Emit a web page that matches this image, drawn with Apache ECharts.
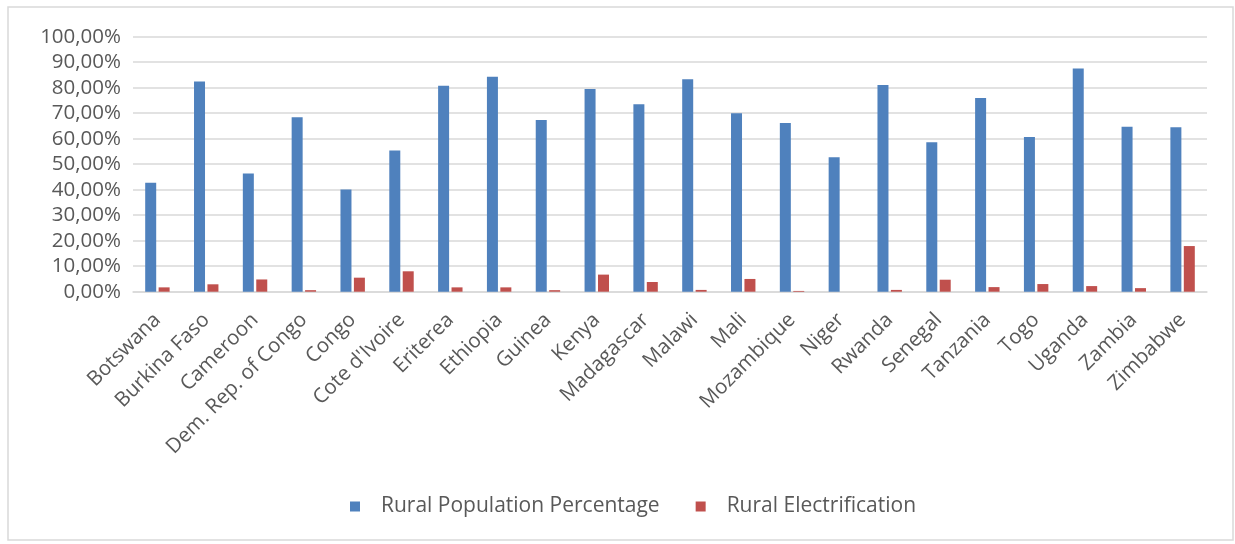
<!DOCTYPE html>
<html>
<head>
<meta charset="utf-8">
<script src="https://cdn.jsdelivr.net/npm/echarts@6/dist/echarts.min.js"></script>
<style>
  html, body { margin: 0; padding: 0; background: #ffffff; }
  #chart { width: 1235px; height: 544px; }
</style>
</head>
<body>
<div id="chart"></div>
<script>
// Countries on the category axis
const countries = [
  'Botswana', 'Burkina Faso', 'Cameroon', 'Dem. Rep. of Congo', 'Congo',
  "Cote d'Ivoire", 'Eriterea', 'Ethiopia', 'Guinea', 'Kenya', 'Madagascar',
  'Malawi', 'Mali', 'Mozambique', 'Niger', 'Rwanda', 'Senegal', 'Tanzania',
  'Togo', 'Uganda', 'Zambia', 'Zimbabwe'
];

// Share of population living in rural areas (%)
const ruralPopulation = [
  42.7, 82.4, 46.4, 68.4, 40.1, 55.4, 80.8, 84.3, 67.3, 79.5, 73.5,
  83.3, 70.0, 66.2, 52.7, 81.1, 58.6, 76.0, 60.7, 87.5, 64.7, 64.5
];

// Share of rural population with electricity access (%)
const ruralElectrification = [
  1.7, 2.9, 4.8, 0.6, 5.5, 8.0, 1.7, 1.7, 0.6, 6.7, 3.8,
  0.7, 5.0, 0.3, 0.0, 0.7, 4.7, 1.8, 3.0, 2.2, 1.4, 17.9
];

// Value-axis tick settings
const yMin = 0;
const yMax = 100;
const yStep = 10;

const seriesNames = ['Rural Population Percentage', 'Rural Electrification'];

const textColor = '#595959';
const fontFamily = '"Open Sans", "Noto Sans", sans-serif';
const fontSize = 20.5;

const chart = echarts.init(document.getElementById('chart'), null, { renderer: 'canvas' });

chart.setOption({
  animation: false,
  backgroundColor: '#ffffff',
  textStyle: { fontFamily: fontFamily, color: textColor },
  graphic: [{
    type: 'rect',
    shape: { x: 8, y: 7, width: 1225, height: 533 },
    style: { fill: 'none', stroke: '#d9d9d9', lineWidth: 1.5 },
    silent: true,
    z: -1
  }],
  grid: {
    left: 133,
    right: 28,
    top: 36.7,
    bottom: 252.3,
    containLabel: false
  },
  legend: {
    data: seriesNames,
    left: 345,
    top: 491,
    icon: 'rect',
    itemWidth: 10,
    itemHeight: 10,
    itemGap: 36,
    textStyle: {
      fontFamily: fontFamily,
      fontSize: 21,
      color: textColor,
      padding: [0, 0, 0, 16]
    }
  },
  xAxis: {
    type: 'category',
    data: countries,
    axisTick: { show: false },
    axisLine: { show: true, lineStyle: { color: '#d9d9d9', width: 1.5 } },
    axisLabel: {
      rotate: 45,
      interval: 0,
      margin: 25,
      fontSize: fontSize,
      fontFamily: fontFamily,
      color: textColor
    }
  },
  yAxis: {
    type: 'value',
    min: yMin,
    max: yMax,
    interval: yStep,
    axisLine: { show: false },
    axisTick: { show: false },
    splitLine: { lineStyle: { color: '#d9d9d9', width: 1.5 } },
    axisLabel: {
      margin: 12,
      fontSize: fontSize,
      fontFamily: fontFamily,
      color: textColor,
      formatter: v => v.toFixed(2).replace('.', ',') + '%'
    }
  },
  series: [
    {
      name: seriesNames[0],
      type: 'bar',
      data: ruralPopulation,
      barWidth: 11,
      barGap: '22%',
      itemStyle: { color: '#4f81bd' }
    },
    {
      name: seriesNames[1],
      type: 'bar',
      data: ruralElectrification,
      barWidth: 11,
      barGap: '22%',
      itemStyle: { color: '#c0504d' }
    }
  ]
});
</script>
</body>
</html>
